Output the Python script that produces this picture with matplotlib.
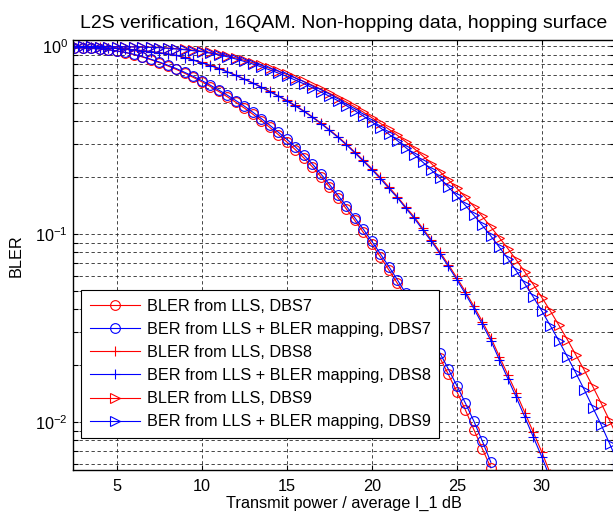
import numpy as np
import matplotlib
matplotlib.use("Agg")
import matplotlib.pyplot as plt
from matplotlib.ticker import LogLocator, NullFormatter, NullLocator, MultipleLocator

plt.rcParams["font.family"] = ["Liberation Sans", "DejaVu Sans"]
plt.rcParams["mathtext.fontset"] = "custom"
plt.rcParams["mathtext.rm"] = "Liberation Sans"
plt.rcParams["mathtext.it"] = "Liberation Sans:italic"
plt.rcParams["font.size"] = 11.7

# --- data (markers every 0.5 dB) ---
snr7 = np.arange(2.5, 27.01, 0.5)
snr8 = np.arange(2.5, 30.51, 0.5)
snr9 = np.arange(2.5, 34.51, 0.5)

bler7_lls = [0.978, 0.976, 0.972, 0.965, 0.955, 0.941, 0.923, 0.901, 0.875, 0.846,
             0.816, 0.784, 0.751, 0.716, 0.681, 0.645, 0.609, 0.573, 0.537, 0.502,
             0.468, 0.434, 0.401, 0.369, 0.338, 0.309, 0.281, 0.254, 0.228, 0.202,
             0.178, 0.156, 0.136, 0.118, 0.102, 0.0880, 0.0755, 0.0644, 0.0547, 0.0462,
             0.0388, 0.0324, 0.0268, 0.0220, 0.0179, 0.0145, 0.0116, 0.0091, 0.0072, 0.0057]
bler7_map = [0.977, 0.975, 0.971, 0.964, 0.955, 0.942, 0.925, 0.904, 0.879, 0.851,
             0.822, 0.791, 0.759, 0.724, 0.690, 0.655, 0.619, 0.583, 0.548, 0.513,
             0.479, 0.445, 0.411, 0.379, 0.348, 0.319, 0.291, 0.263, 0.236, 0.209,
             0.184, 0.161, 0.141, 0.122, 0.106, 0.0914, 0.0785, 0.0671, 0.0571, 0.0483,
             0.0406, 0.0340, 0.0282, 0.0233, 0.0191, 0.0156, 0.0126, 0.0101, 0.0079, 0.0061]

bler8_lls = [0.992, 0.990, 0.987, 0.983, 0.978, 0.972, 0.965, 0.956, 0.946, 0.935,
             0.922, 0.908, 0.893, 0.870, 0.844, 0.818, 0.790, 0.762, 0.731, 0.700,
             0.668, 0.637, 0.606, 0.574, 0.544, 0.514, 0.483, 0.452, 0.421, 0.390,
             0.359, 0.330, 0.301, 0.273, 0.247, 0.223, 0.200, 0.178, 0.158, 0.139,
             0.123, 0.107, 0.0932, 0.0803, 0.0688, 0.0585, 0.0494, 0.0413, 0.0342, 0.0281,
             0.0223, 0.0178, 0.0142, 0.0112, 0.0088, 0.0069, 0.0053]
bler8_map = [0.991, 0.989, 0.986, 0.982, 0.977, 0.971, 0.964, 0.955, 0.944, 0.933,
             0.920, 0.906, 0.891, 0.867, 0.841, 0.815, 0.787, 0.759, 0.728, 0.697,
             0.665, 0.634, 0.603, 0.571, 0.541, 0.511, 0.480, 0.449, 0.418, 0.387,
             0.356, 0.327, 0.298, 0.270, 0.244, 0.220, 0.197, 0.175, 0.156, 0.137,
             0.121, 0.105, 0.0914, 0.0787, 0.0673, 0.0571, 0.0481, 0.0401, 0.0331, 0.0271,
             0.0214, 0.0170, 0.0135, 0.0106, 0.0083, 0.0065, 0.0050]

bler9_lls = [0.996, 0.996, 0.995, 0.994, 0.994, 0.992, 0.992, 0.990, 0.988, 0.986,
             0.982, 0.976, 0.968, 0.960, 0.950, 0.940, 0.924, 0.906, 0.887, 0.864,
             0.840, 0.815, 0.788, 0.761, 0.734, 0.706, 0.677, 0.648, 0.619, 0.590,
             0.561, 0.532, 0.503, 0.474, 0.445, 0.416, 0.388, 0.361, 0.335, 0.309,
             0.284, 0.260, 0.237, 0.215, 0.194, 0.175, 0.157, 0.140, 0.124, 0.109,
             0.0956, 0.0836, 0.0726, 0.0627, 0.0538, 0.0459, 0.0389, 0.0327, 0.0274, 0.0227,
             0.0188, 0.0154, 0.0125, 0.0101, 0.0081]
bler9_map = [0.995, 0.995, 0.995, 0.993, 0.993, 0.991, 0.991, 0.989, 0.986, 0.984,
             0.979, 0.973, 0.964, 0.955, 0.944, 0.933, 0.916, 0.897, 0.877, 0.853,
             0.828, 0.802, 0.774, 0.746, 0.718, 0.689, 0.659, 0.630, 0.600, 0.570,
             0.541, 0.512, 0.482, 0.453, 0.424, 0.395, 0.367, 0.340, 0.314, 0.288,
             0.264, 0.241, 0.219, 0.198, 0.178, 0.159, 0.142, 0.126, 0.111, 0.0975,
             0.0851, 0.0738, 0.0635, 0.0543, 0.0461, 0.0389, 0.0325, 0.0270, 0.0222, 0.0182,
             0.0148, 0.0119, 0.0096, 0.0076, 0.0060]

labels = ["BLER from LLS, DBS7", "BER from LLS + BLER mapping, DBS7",
          "BLER from LLS, DBS8", "BER from LLS + BLER mapping, DBS8",
          "BLER from LLS, DBS9", "BER from LLS + BLER mapping, DBS9"]

# --- figure ---
fig = plt.figure(figsize=(6.13, 5.18), dpi=100)
ax = fig.add_axes([0.1183, 0.0917, 0.885, 0.831])   # right edge is cropped, as in the source

series = [(snr7, bler7_lls, "r", "o"), (snr7, bler7_map, "b", "o"),
          (snr8, bler8_lls, "r", "+"), (snr8, bler8_map, "b", "+"),
          (snr9, bler9_lls, "r", ">"), (snr9, bler9_map, "b", ">")]
for (x, y, c, m), lab in zip(series, labels):
    ax.semilogy(x, y, color=c, marker=m, markersize=7, markerfacecolor="none",
                markeredgewidth=0.8, linewidth=0.8, label=lab)

ax.set_xlim(2.4, 34.3)
ax.set_ylim(0.00552, 1.076)
ax.xaxis.set_major_locator(MultipleLocator(5))
ax.xaxis.set_minor_locator(NullLocator())
ax.yaxis.set_major_locator(LogLocator(base=10))
ax.yaxis.set_minor_locator(LogLocator(base=10, subs=np.arange(2, 10)))
ax.yaxis.set_minor_formatter(NullFormatter())

grid_kw = dict(color="0.15", linestyle=(0, (4, 3.2)), linewidth=0.6)
ax.grid(True, which="major", axis="both", **grid_kw)
ax.grid(True, which="minor", axis="y", **grid_kw)
ax.set_axisbelow(True)

ax.tick_params(which="both", direction="in", top=True, right=True, length=3.6, width=0.8)
ax.tick_params(axis="x", pad=6)
ax.tick_params(axis="y", pad=3.5)
for s in ax.spines.values():
    s.set_linewidth(1.0)

ax.set_title("L2S verification, 16QAM. Non-hopping data, hopping surface", pad=9)
ax.set_xlabel("Transmit power / average I_1 dB", labelpad=1.5)
ax.set_ylabel("BLER", labelpad=8.5)

leg = ax.legend(loc="lower left", bbox_to_anchor=(0.0151, 0.0748), borderaxespad=0,
                fancybox=False, edgecolor="black", framealpha=1, handlelength=3.1,
                handletextpad=0.4, labelspacing=0.5, borderpad=0.55)
leg.get_frame().set_linewidth(0.8)

fig.savefig("out.png", dpi=100)
